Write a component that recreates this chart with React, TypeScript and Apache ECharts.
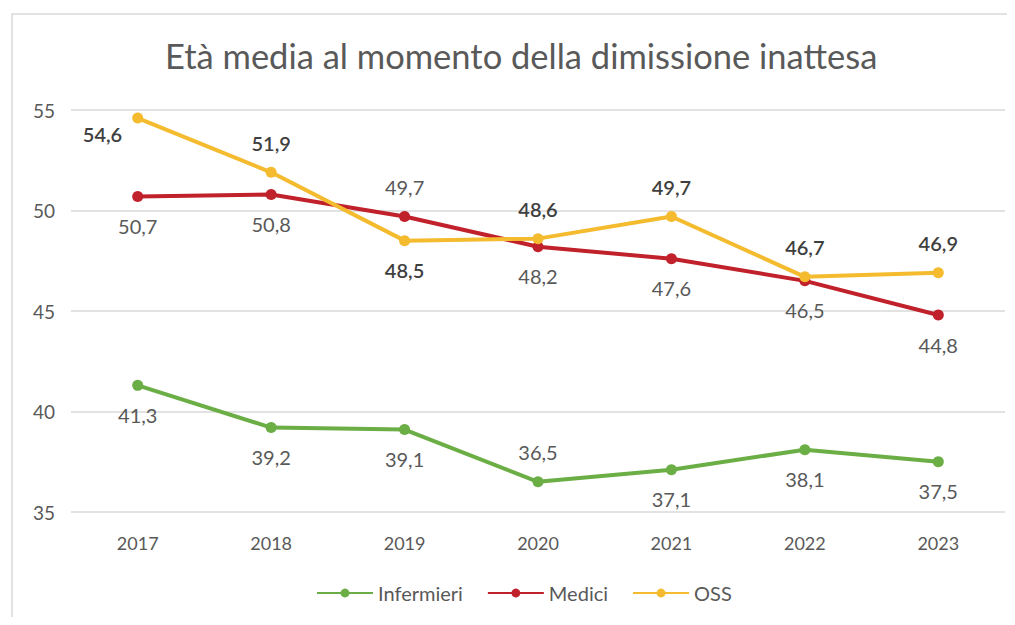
import React, { useEffect, useRef } from "react";
import * as echarts from "echarts";

const years = ["2017", "2018", "2019", "2020", "2021", "2022", "2023"];
const infermieri = [41.3, 39.2, 39.1, 36.5, 37.1, 38.1, 37.5];
const medici = [50.7, 50.8, 49.7, 48.2, 47.6, 46.5, 44.8];
const oss = [54.6, 51.9, 48.5, 48.6, 49.7, 46.7, 46.9];
const infermieriPos = ["bottom", "bottom", "bottom", "top", "bottom", "bottom", "bottom"];
const mediciPos = ["bottom", "bottom", "top", "bottom", "bottom", "bottom", "bottom"];
const ossPos = ["left", "top", "bottom", "top", "top", "top", "top"];

const fmt = (v: number) => v.toFixed(1).replace(".", ",");

export default function App() {
  const ref = useRef<HTMLDivElement>(null);
  useEffect(() => {
    const chart = echarts.init(ref.current!, null, { renderer: "svg" });
    const font = "Lato, 'Open Sans', sans-serif";
    const mk = (vals: number[], pos: string[], labelColor: string, bold: boolean) =>
      vals.map((v, i) => ({
        value: v,
        label: {
          show: true,
          position: pos[i] as any,
          distance: pos[i] === "left" ? 10 : 14,
          offset: pos[i] === "left" ? [0, 16] : [0, 0],
          formatter: () => fmt(v),
          color: labelColor,
          fontSize: 20,
          fontWeight: bold ? 600 : 400,
          fontFamily: font,
        },
      }));
    const series = [
      { name: "Infermieri", color: "#6aae45", data: mk(infermieri, infermieriPos, "#595959", false) },
      { name: "Medici", color: "#c0212b", data: mk(medici, mediciPos, "#595959", false) },
      { name: "OSS", color: "#f4bb2f", data: mk(oss, ossPos, "#3f3f3f", true) },
    ].map((s) => ({
      type: "line",
      name: s.name,
      data: s.data,
      symbol: "circle",
      symbolSize: 11,
      lineStyle: { width: 4, color: s.color },
      itemStyle: { color: s.color },
      z: s.name === "OSS" ? 3 : 2,
    }));
    chart.setOption({
      animation: false,
      backgroundColor: "#ffffff",
      title: {
        text: "Età media al momento della dimissione inattesa",
        left: 152,
        top: 25,
        textStyle: { fontFamily: font, fontSize: 34.5, fontWeight: 400, color: "#595959" },
      },
      graphic: [
        {
          type: "rect",
          shape: { x: 4, y: 6, width: 1100, height: 700 },
          style: { fill: "none", stroke: "#d9d9d9", lineWidth: 1.5 },
          silent: true,
        },
      ],
      legend: {
        bottom: 9,
        left: 303,
        itemWidth: 56,
        itemHeight: 11,
        itemGap: 24,
        textStyle: { fontFamily: font, fontSize: 20, color: "#595959" },
        data: ["Infermieri", "Medici", "OSS"],
      },
      grid: { left: 63, right: 2, top: 102, bottom: 105 },
      xAxis: {
        type: "category",
        data: years,
        boundaryGap: true,
        axisLine: { show: false },
        axisTick: { show: false },
        axisLabel: { fontFamily: font, fontSize: 18, color: "#595959", margin: 22 },
      },
      yAxis: {
        type: "value",
        min: 35,
        max: 55,
        interval: 5,
        axisLine: { show: false },
        axisTick: { show: false },
        axisLabel: { fontFamily: font, fontSize: 19, color: "#595959", margin: 16 },
        splitLine: { lineStyle: { color: "#d9d9d9", width: 1.5 } },
      },
      series,
    });
    return () => chart.dispose();
  }, []);
  return <div ref={ref} style={{ width: 999, height: 609 }} />;
}
